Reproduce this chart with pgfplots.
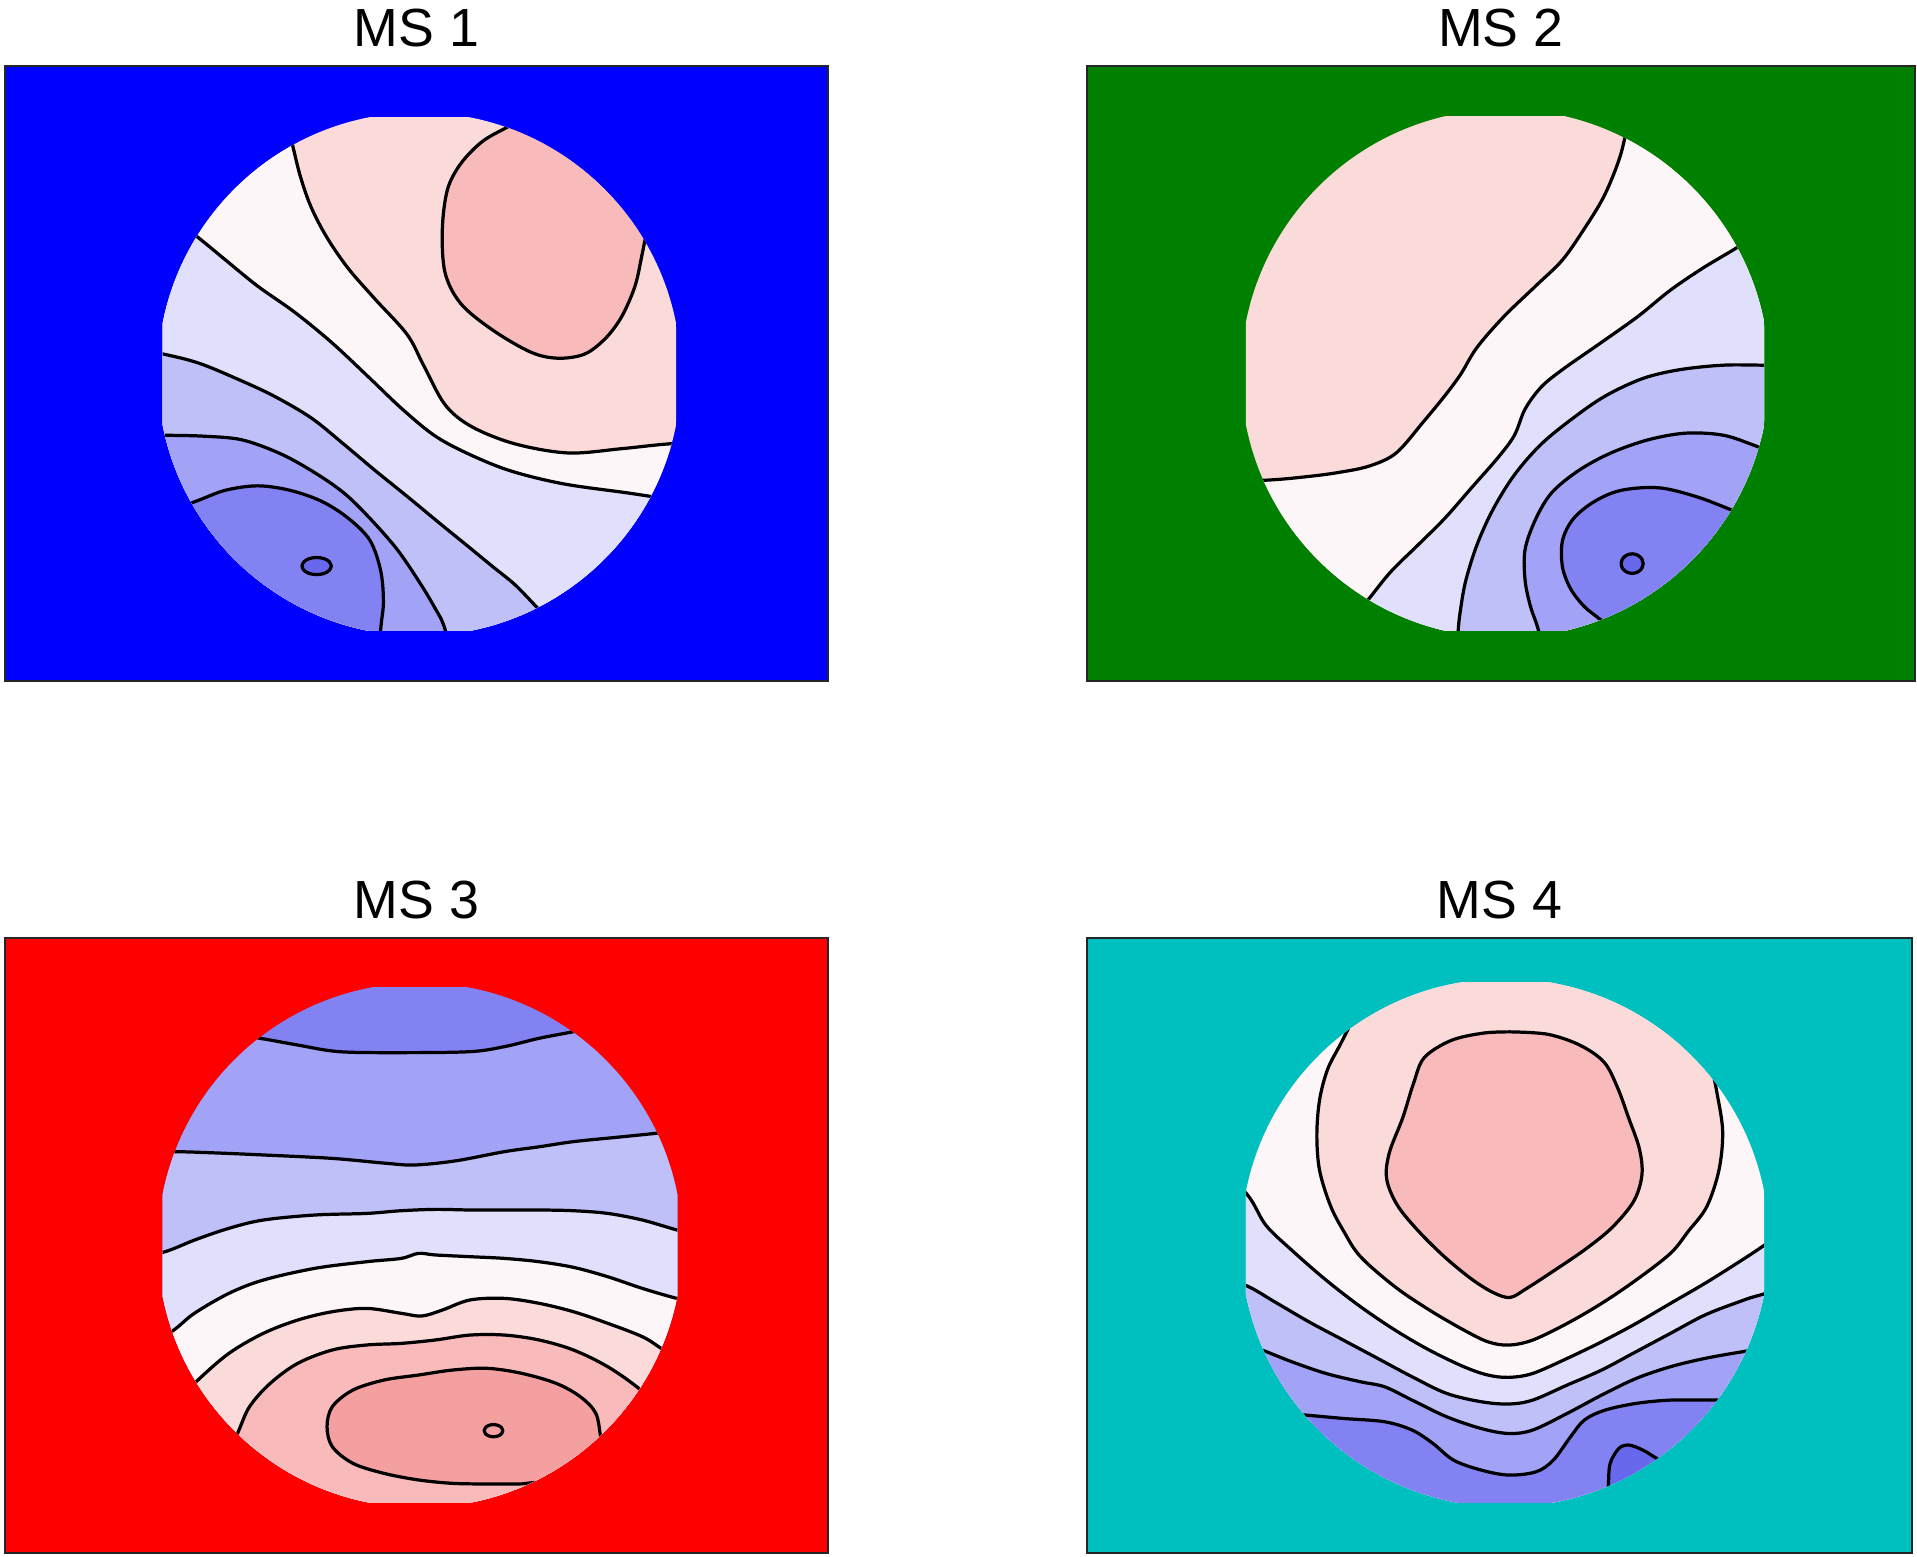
\documentclass[border=0pt]{standalone}
\usepackage{fontspec}
\setmainfont{Liberation Sans}
\usepackage{pgfplots}
\pgfplotsset{compat=1.18}

\definecolor{msblue}{RGB}{0,0,254}
\definecolor{msgreen}{RGB}{0,128,0}
\definecolor{msred}{RGB}{254,0,0}
\definecolor{msteal}{RGB}{0,191,191}
% band colours of the map, dark blue -> white -> red
\definecolor{b4}{RGB}{104,104,236}
\definecolor{b3}{RGB}{130,130,242}
\definecolor{b2}{RGB}{162,162,246}
\definecolor{b1}{RGB}{192,192,249}
\definecolor{b0}{RGB}{224,224,252}
\definecolor{w}{RGB}{253,246,248}
\definecolor{r1}{RGB}{251,218,218}
\definecolor{r2}{RGB}{248,186,186}
\definecolor{r3}{RGB}{245,160,160}

\tikzset{band/.style={fill=#1, draw=black, line width=0.75pt, line join=round, smooth, tension=0.55}}

\pgfplotsset{topo/.style={
    scale only axis, height=5.03cm,
    xmin=0, ymin=0, ymax=503, y dir=reverse,
    xtick=\empty, ytick=\empty,
    axis line style={line width=0.5pt, black!85},
    every axis title/.style={at={(0.5,1)}, anchor=base, yshift=0.16cm,
        font=\fontsize{12.5}{15}\selectfont},
}}

\begin{document}
\begin{tikzpicture}
\useasboundingbox (0,0) rectangle (15.68cm,12.73cm);

% ---------------- MS 1
\begin{axis}[topo, at={(0.04cm,7.16cm)}, anchor=south west,
    width=6.73cm, xmax=673, title={MS 1},
    axis background/.style={fill=msblue}]
\begin{scope}
\clip (axis cs:129,42) rectangle (axis cs:549,462);
\clip (axis cs:339,252) circle[radius=2.14cm];
\addplot[fill=r1, draw=none] coordinates {(0,0) (700,0) (700,560) (0,560)} -- cycle;
\addplot[band=w] coordinates {(222,10) (235,63.5) (241.7,90.4) (250.5,115.5) (263.6,140.6) (281,165.8) (303,190.9) (329,219.6) (342.4,244.7) (360,277) (381.8,295) (417,309) (460.7,316.5) (504.5,313) (544,309) (600,306) (700,306) (700,560) (0,560) (0,10)} -- cycle;
\addplot[band=b0] coordinates {(120,110) (158.5,140.6) (180.4,158.6) (206.7,180) (237.3,201.6) (268,226.8) (298.6,255.5) (325,280.6) (351,302) (377.5,316.5) (412.5,330.8) (456,341.6) (506.6,348.8) (560,356) (700,370) (700,560) (0,560) (0,110)} -- cycle;
\addplot[band=b1] coordinates {(90,228) (130,235.7) (158.5,243) (189,255.5) (219.8,269.8) (250.5,287.8) (276.8,309) (303,331) (329,352) (355.6,374) (377.5,391.8) (399.4,409.8) (416.9,424) (434.4,442) (470,480) (470,560) (0,560) (0,228)} -- cycle;
\addplot[band=b2] coordinates {(80,301) (132,302) (163,302.8) (193.6,305.7) (224,316.5) (250.5,330.8) (276.8,348.8) (298.6,370) (320.5,395) (338,420.5) (351,442) (360,460.7) (368,500) (368,560) (0,560) (0,301)} -- cycle;
\addplot[band=b3] coordinates {(110,373) (156.3,356) (180.4,347) (206.7,343.4) (233,347) (259,356) (281,370) (298.6,388) (307.4,413) (309.6,438.5) (307.4,460.7) (305,500) (305,560) (0,560) (0,373)} -- cycle;
\addplot[band=r2] coordinates {(445,32) (412.5,49.2) (390.6,61.7) (373,79.7) (362,101) (357.8,133.5) (360,169) (373,194.5) (399,216) (430,234) (452,239) (474,235.7) (491,223) (504.5,205) (515.4,180) (521,155) (525,135) (530,112) (540,85) (620,40)} -- cycle;
\addplot[band=b4] coordinates {(267,409) (265.4,412.5) (261,415.1) (255,416) (249,415.1) (244.6,412.5) (243,409) (244.6,405.5) (249,402.9) (255,402) (261,402.9) (265.4,405.5) (267,409)} -- cycle;
\end{scope}
\end{axis}

% ---------------- MS 2
\begin{axis}[topo, at={(8.89cm,7.16cm)}, anchor=south west,
    width=6.77cm, xmax=677, title={MS 2},
    axis background/.style={fill=msgreen}]
\begin{scope}
\clip (axis cs:130,41) rectangle (axis cs:554,462);
\clip (axis cs:342,251.5) circle[radius=2.16cm];
\addplot[fill=r1, draw=none] coordinates {(0,0) (700,0) (700,560) (0,560)} -- cycle;
\addplot[band=w] coordinates {(447,20) (439.5,61) (433,83) (422,108.4) (406.6,133.5) (389,158.6) (367,180) (341,205) (319,230.3) (305.9,251.9) (292.7,269.8) (275,291.3) (253,316.5) (231,327.2) (205,332.6) (178.8,336) (148,338.7) (90,341) (0,341) (0,560) (700,560) (700,20)} -- cycle;
\addplot[band=b0] coordinates {(575,122) (530,149.6) (503,165.8) (476.8,183.7) (450.5,205) (419.8,226.8) (389,248.3) (371.6,262.6) (358.4,280.6) (349.7,302) (336.5,320) (314.6,345) (292.7,370) (270.8,391.8) (248.9,413.3) (231.4,434.9) (200,475) (200,560) (700,560) (700,122)} -- cycle;
\addplot[band=b1] coordinates {(610,245) (554.8,244.7) (520.6,244.7) (485.5,248.3) (454.9,255.5) (424.2,269.8) (397.9,287.8) (371.6,309.3) (349.7,334.4) (332,363) (319,391.8) (310,420.5) (306,442) (303.7,461.8) (302,500) (302,560) (700,560) (700,245)} -- cycle;
\addplot[band=b2] coordinates {(590,327) (547.8,311) (520.6,302) (489.9,300.3) (459.2,305.7) (428.6,316.5) (402.3,330.8) (380.4,348.8) (367.2,370.3) (358.4,395.4) (358.4,420.5) (362.8,442) (369.4,461.8) (378,500) (378,560) (700,560) (700,327)} -- cycle;
\addplot[band=b3] coordinates {(565,378) (527,363) (498.7,352.3) (468,345) (437.3,347) (415.4,356) (397.9,370.3) (389,388.2) (389,409.8) (395.7,427.7) (406.7,442) (418.9,452) (440,470) (470,560) (700,560) (700,378)} -- cycle;
\addplot[band=b4] coordinates {(455,407) (453.8,411) (450.5,413.9) (446,415) (441.5,413.9) (438.2,411) (437,407) (438.2,403) (441.5,400.1) (446,399) (450.5,400.1) (453.8,403) (455,407)} -- cycle;
\end{scope}
\end{axis}

% ---------------- MS 3
\begin{axis}[topo, at={(0.04cm,0.03cm)}, anchor=south west,
    width=6.73cm, xmax=673, title={MS 3},
    axis background/.style={fill=msred}]
\begin{scope}
\clip (axis cs:129,41) rectangle (axis cs:550,462);
\clip (axis cs:339.5,251.5) circle[radius=2.145cm];
\addplot[fill=b3, draw=none] coordinates {(0,0) (700,0) (700,560) (0,560)} -- cycle;
\addplot[band=b2] coordinates {(170,77) (208.6,82.3) (239.6,87.8) (273.4,93.2) (324.1,94) (380.4,93.2) (408.6,89.1) (436.8,82.3) (464.9,76.9) (510,68) (700,68) (700,560) (0,560) (0,77)} -- cycle;
\addplot[band=b1] coordinates {(100,176) (136.8,175) (171.7,176) (211.4,177.7) (267.8,180.5) (311.8,184.5) (335.4,185.9) (368.7,182.5) (408.6,175) (437,171) (465,166.8) (500,163.3) (532.5,160) (580,155) (700,155) (700,560) (0,560) (0,176)} -- cycle;
\addplot[band=b0] coordinates {(95,266) (131.1,256.8) (155.1,247.3) (183.2,237.7) (211.4,230.9) (253.7,226.8) (296,225.5) (324.1,223.3) (352.3,222.2) (380.4,222.7) (408.6,222.7) (436.8,222.7) (465,223.3) (493.1,225.5) (521.3,230.9) (549.5,239) (590,250) (700,250) (700,560) (0,560) (0,266)} -- cycle;
\addplot[band=w] coordinates {(110,340) (138.2,320.9) (155,307.2) (183.2,290.9) (211.4,280) (253.7,270.4) (296,265) (324.1,262.3) (338.2,258.2) (352.3,259.5) (380.4,260.9) (408.6,262.3) (436.8,265) (465,269.6) (493.1,277.3) (521.3,286.8) (549.5,295) (590,305) (700,305) (700,560) (0,560) (0,340)} -- cycle;
\addplot[band=r1] coordinates {(130,390) (156.5,363.1) (183.2,340) (211.4,323.6) (239.6,312.7) (267.8,305.9) (296,303.2) (324.1,307.2) (341,309.4) (357.9,304.5) (380.4,296.3) (408.6,295) (436.8,299) (465,305.9) (493.1,315.4) (521.3,326.3) (536.8,335.9) (570,358) (700,358) (700,560) (0,560) (0,390)} -- cycle;
\addplot[band=r2] coordinates {(175,440) (190.3,405.4) (200.1,383.6) (217,364.5) (239.6,348.1) (267.8,337.2) (296,333.1) (324.1,331.8) (352.3,329) (380.4,325) (408.6,325) (436.8,329) (465,337.2) (493.1,350.9) (518.5,368.6) (545,392) (700,392) (700,560) (0,560) (0,440)} -- cycle;
\addplot[band=r3] coordinates {(493,440) (487.5,409.5) (483.3,389) (470.6,375.4) (450.9,364.5) (422.7,356.3) (394.5,352.2) (366.3,353.6) (338.2,357.7) (310,361.8) (284.6,370) (267.8,383.6) (263.5,399.9) (267.8,416.3) (284.6,429.9) (310,438.1) (338.2,443.5) (366.3,446.3) (394.5,446.8) (419.9,446.8) (450,448) (500,480)} -- cycle;
\addplot[band=r3] coordinates {(407.2,403.2) (406.2,405.7) (403.4,407.5) (399.6,408.2) (395.8,407.5) (393,405.7) (392,403.2) (393,400.7) (395.8,398.9) (399.6,398.2) (403.4,398.9) (406.2,400.7) (407.2,403.2)} -- cycle;
\end{scope}
\end{axis}

% ---------------- MS 4
\begin{axis}[topo, at={(8.89cm,0.03cm)}, anchor=south west,
    width=6.75cm, xmax=675, title={MS 4},
    axis background/.style={fill=msteal}]
\begin{scope}
\clip (axis cs:130,37) rectangle (axis cs:554,462);
\clip (axis cs:342,249.5) circle[radius=2.16cm];
\addplot[fill=w, draw=none] coordinates {(0,0) (700,0) (700,560) (0,560)} -- cycle;
\addplot[band=b0] coordinates {(100,180) (131,209.9) (146.3,235) (167.5,255.5) (195.6,280) (223.8,301.8) (252,320.9) (280.1,337.3) (308.3,350.9) (328,357.7) (345,359.6) (364.6,356.4) (392.8,344.1) (421,330.5) (449.2,315.5) (477.3,299.1) (505.5,282.7) (533.7,265) (556.2,250) (590,225) (700,225) (700,560) (0,560) (0,180)} -- cycle;
\addplot[band=b1] coordinates {(90,270) (129.4,284.1) (153.4,297.7) (181.5,314.1) (209.7,329.1) (237.9,344.1) (266,359.1) (294.2,372.7) (322.4,379.5) (345,381.4) (364.6,378.2) (392.8,365.9) (421,353.6) (449.2,338.6) (477.3,323.6) (505.5,308.6) (533.7,297.7) (550.6,292.3) (600,280) (700,280) (700,560) (0,560) (0,270)} -- cycle;
\addplot[band=b2] coordinates {(110,325) (143.5,337.3) (167.5,346.8) (195.6,356.4) (223.8,363.2) (243.5,367.3) (266,378.2) (294.2,391.8) (322.4,401.4) (345,405.5) (364.6,402.7) (392.8,389.1) (421,374.1) (449.2,360.5) (477.3,350.9) (505.5,344.1) (536.5,338.6) (580,332) (700,332) (700,560) (0,560) (0,325)} -- cycle;
\addplot[band=b3] coordinates {(150,388) (178.7,390.4) (209.7,393.2) (243.5,395.9) (266,402.7) (283,413.6) (299.9,427.3) (322.4,435.4) (345,439.5) (367.5,436.8) (381.5,427.3) (395.6,408.2) (406.9,394.5) (423.8,386.4) (449.2,380.9) (477.3,378.2) (511.1,378.2) (550,378) (700,378) (700,560) (0,560) (0,388)} -- cycle;
\addplot[band=b4] coordinates {(425,480) (426.6,446.4) (428,430) (435.1,417.7) (443.5,415) (454.8,419.1) (466.1,425.9) (490,440) (520,480)} -- cycle;
\addplot[band=r1] coordinates {(222,58) (207.9,86.1) (196.9,107.6) (190.3,132.8) (188.1,161.5) (190.3,190.2) (199.1,218.9) (210,240) (223.8,260.9) (252,285.5) (280.1,304.5) (308.3,320.9) (328,330.5) (345,333.2) (364.6,329.1) (392.8,315.5) (421,299.1) (449.2,280) (477.3,258.2) (492,240) (507,220) (517,190) (520,158) (515,125) (509,95) (500,40) (520,-50) (222,-50)} -- cycle;
\addplot[band=r2] coordinates {(346.3,77) (377,79) (403.5,88) (423.2,102) (434.2,123) (443,147.1) (451.8,172.2) (454,193.8) (447.4,215.3) (429.8,236.8) (407.9,254.7) (381.5,272.7) (359.5,287) (346.3,294.2) (333.1,290.6) (315.6,279.9) (293.6,262) (271.6,240.4) (254,218.9) (245.2,197.3) (247.4,175.8) (258.4,147.1) (267.2,119) (276,98) (298,84) (324.4,78) (346.3,77)} -- cycle;
\end{scope}
\end{axis}
\end{tikzpicture}
\end{document}
